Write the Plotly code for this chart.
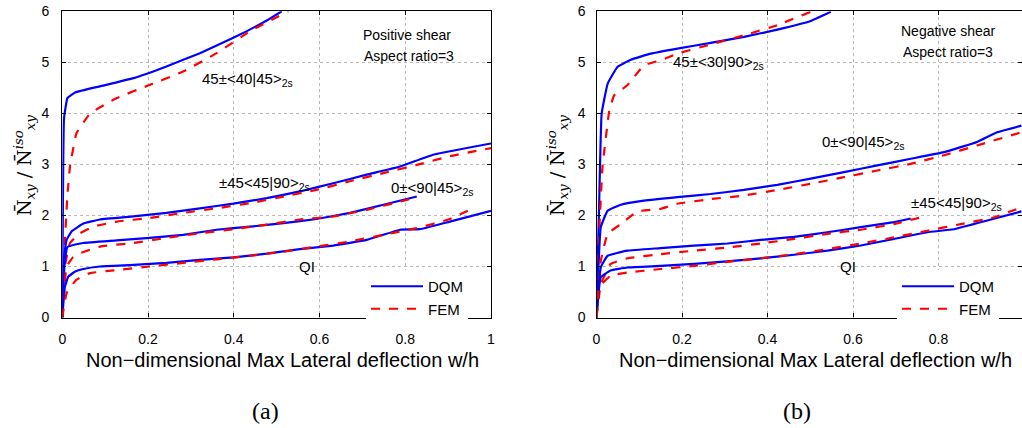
import plotly.graph_objects as go

# ---------------- data ----------------
# Panel (a): positive shear
a_45_40_dqm_x = [0, 0.004, 0.012, 0.03, 0.088, 0.166, 0.243, 0.321, 0.399, 0.477, 0.512]
a_45_40_dqm_y = [0, 3.9, 4.3, 4.41, 4.53, 4.69, 4.92, 5.18, 5.48, 5.82, 6.0]
a_45_40_fem_x = [0, 0.006, 0.012, 0.018, 0.033, 0.065, 0.127, 0.2045, 0.282, 0.36, 0.438, 0.527]
a_45_40_fem_y = [0, 1.5, 2.4, 2.96, 3.61, 4.0, 4.3, 4.56, 4.82, 5.18, 5.61, 6.0]

a_pm45_dqm_x = [0, 0.004, 0.01, 0.022, 0.049, 0.088, 0.166, 0.243, 0.321, 0.399, 0.477, 0.554, 0.632, 0.71, 0.788, 0.865, 1.0]
a_pm45_dqm_y = [0, 1.2, 1.52, 1.69, 1.84, 1.92, 1.98, 2.05, 2.14, 2.23, 2.34, 2.47, 2.63, 2.8, 2.96, 3.19, 3.41]
a_pm45_fem_x = [0, 0.006, 0.018, 0.041, 0.072, 0.127, 0.204, 0.282, 0.36, 0.438, 0.516, 0.593, 0.671, 0.749, 0.827, 0.904, 1.0]
a_pm45_fem_y = [0, 1.0, 1.46, 1.65, 1.78, 1.88, 1.95, 2.05, 2.14, 2.24, 2.37, 2.5, 2.67, 2.83, 2.99, 3.16, 3.32]

a_0pm_dqm_x = [0, 0.005, 0.012, 0.03, 0.049, 0.127, 0.204, 0.282, 0.36, 0.438, 0.516, 0.593, 0.671, 0.749, 0.827]
a_0pm_dqm_y = [0, 1.0, 1.38, 1.43, 1.46, 1.51, 1.56, 1.62, 1.72, 1.78, 1.85, 1.93, 2.05, 2.21, 2.37]
a_0pm_fem_x = [0, 0.01, 0.025, 0.041, 0.088, 0.166, 0.243, 0.321, 0.399, 0.477, 0.554, 0.632, 0.71, 0.788, 0.819]
a_0pm_fem_y = [0, 1.0, 1.18, 1.26, 1.39, 1.46, 1.56, 1.65, 1.73, 1.82, 1.92, 1.98, 2.11, 2.27, 2.34]

a_qi_dqm_x = [0, 0.006, 0.014, 0.03, 0.049, 0.088, 0.166, 0.243, 0.321, 0.399, 0.477, 0.554, 0.632, 0.71, 0.788, 0.834, 0.904, 1.0]
a_qi_dqm_y = [0, 0.6, 0.8, 0.9, 0.95, 1.0, 1.03, 1.07, 1.13, 1.18, 1.25, 1.34, 1.41, 1.52, 1.72, 1.73, 1.88, 2.09]
a_qi_fem_x = [0, 0.01, 0.033, 0.065, 0.127, 0.204, 0.282, 0.36, 0.438, 0.516, 0.593, 0.671, 0.749, 0.827, 0.904, 0.96]
a_qi_fem_y = [0, 0.48, 0.74, 0.87, 0.93, 1.0, 1.07, 1.14, 1.21, 1.29, 1.39, 1.49, 1.62, 1.75, 1.93, 2.15]

# Panel (b): negative shear
b_45_30_dqm_x = [0, 0.006, 0.012, 0.026, 0.049, 0.08, 0.127, 0.189, 0.267, 0.345, 0.423, 0.501, 0.548]
b_45_30_dqm_y = [0, 2.16, 3.99, 4.58, 4.91, 5.05, 5.17, 5.27, 5.38, 5.5, 5.64, 5.81, 5.99]
b_45_30_fem_x = [0, 0.006, 0.014, 0.03, 0.041, 0.072, 0.111, 0.15, 0.189, 0.267, 0.345, 0.423, 0.501]
b_45_30_fem_y = [0, 1.64, 2.95, 4.06, 4.35, 4.55, 4.94, 5.04, 5.17, 5.35, 5.53, 5.73, 5.99]

b_0pm_dqm_x = [0, 0.01, 0.026, 0.057, 0.111, 0.189, 0.267, 0.345, 0.423, 0.501, 0.579, 0.657, 0.735, 0.813, 0.89, 0.937, 0.994]
b_0pm_dqm_y = [0, 1.77, 2.09, 2.21, 2.29, 2.36, 2.42, 2.5, 2.6, 2.72, 2.85, 2.98, 3.11, 3.24, 3.44, 3.63, 3.76]
b_0pm_fem_x = [0, 0.01, 0.026, 0.057, 0.096, 0.15, 0.189, 0.267, 0.345, 0.423, 0.501, 0.579, 0.657, 0.735, 0.813, 0.89, 0.994]
b_0pm_fem_y = [0, 1.11, 1.64, 1.83, 2.08, 2.13, 2.23, 2.32, 2.39, 2.5, 2.62, 2.75, 2.88, 3.01, 3.18, 3.37, 3.63]

b_pm45_dqm_x = [0, 0.01, 0.026, 0.072, 0.15, 0.228, 0.306, 0.384, 0.462, 0.54, 0.618, 0.696, 0.735]
b_pm45_dqm_y = [0, 0.98, 1.21, 1.31, 1.36, 1.41, 1.45, 1.52, 1.58, 1.67, 1.77, 1.87, 1.94]
b_pm45_fem_x = [0, 0.01, 0.033, 0.072, 0.15, 0.228, 0.306, 0.384, 0.462, 0.54, 0.618, 0.696, 0.772]
b_pm45_fem_y = [0, 0.65, 1.05, 1.16, 1.24, 1.31, 1.37, 1.45, 1.54, 1.64, 1.72, 1.83, 1.99]

b_qi_dqm_x = [0, 0.01, 0.033, 0.072, 0.15, 0.228, 0.306, 0.384, 0.462, 0.54, 0.618, 0.696, 0.774, 0.836, 0.914, 0.994]
b_qi_dqm_y = [0, 0.79, 0.92, 0.98, 1.01, 1.05, 1.1, 1.16, 1.23, 1.31, 1.41, 1.54, 1.67, 1.73, 1.9, 2.08]
b_qi_fem_x = [0, 0.006, 0.033, 0.072, 0.15, 0.228, 0.306, 0.384, 0.462, 0.54, 0.618, 0.696, 0.774, 0.852, 0.929, 0.994]
b_qi_fem_y = [0, 0.59, 0.82, 0.88, 0.95, 1.01, 1.09, 1.16, 1.24, 1.34, 1.45, 1.57, 1.7, 1.83, 1.96, 2.16]

x_ticks = [0, 0.2, 0.4, 0.6, 0.8, 1]
x_ticklabels = ["0", "0.2", "0.4", "0.6", "0.8", "1"]
y_ticks = [0, 1, 2, 3, 4, 5, 6]

# ---------------- figure ----------------
BLUE = "#0000ff"
RED = "#ff0000"
fig = go.Figure()

def add(x, y, kind, xa, ya, legend, show):
    fig.add_trace(go.Scatter(
        x=x, y=y, mode="lines", xaxis=xa, yaxis=ya,
        name="DQM" if kind == "dqm" else "FEM",
        legend=legend, showlegend=show,
        line=dict(color=BLUE if kind == "dqm" else RED, width=2.2,
                  dash="solid" if kind == "dqm" else "dash",
                  shape="spline", smoothing=0.3),
        hoverinfo="skip"))

# panel (a)
add(a_45_40_dqm_x, a_45_40_dqm_y, "dqm", "x", "y", "legend", True)
add(a_45_40_fem_x, a_45_40_fem_y, "fem", "x", "y", "legend", True)
add(a_pm45_dqm_x, a_pm45_dqm_y, "dqm", "x", "y", "legend", False)
add(a_pm45_fem_x, a_pm45_fem_y, "fem", "x", "y", "legend", False)
add(a_0pm_dqm_x, a_0pm_dqm_y, "dqm", "x", "y", "legend", False)
add(a_0pm_fem_x, a_0pm_fem_y, "fem", "x", "y", "legend", False)
add(a_qi_dqm_x, a_qi_dqm_y, "dqm", "x", "y", "legend", False)
add(a_qi_fem_x, a_qi_fem_y, "fem", "x", "y", "legend", False)
# panel (b)
add(b_45_30_dqm_x, b_45_30_dqm_y, "dqm", "x2", "y2", "legend2", True)
add(b_45_30_fem_x, b_45_30_fem_y, "fem", "x2", "y2", "legend2", True)
add(b_0pm_dqm_x, b_0pm_dqm_y, "dqm", "x2", "y2", "legend2", False)
add(b_0pm_fem_x, b_0pm_fem_y, "fem", "x2", "y2", "legend2", False)
add(b_pm45_dqm_x, b_pm45_dqm_y, "dqm", "x2", "y2", "legend2", False)
add(b_pm45_fem_x, b_pm45_fem_y, "fem", "x2", "y2", "legend2", False)
add(b_qi_dqm_x, b_qi_dqm_y, "dqm", "x2", "y2", "legend2", False)
add(b_qi_fem_x, b_qi_fem_y, "fem", "x2", "y2", "legend2", False)

W, H = 1022, 428
TICKFONT = dict(family="Liberation Sans, Arial", size=14, color="black")
axis_common = dict(showline=True, linecolor="black", linewidth=1.3, mirror="ticks",
                   ticks="inside", ticklen=4, tickcolor="black", automargin=False,
                   showgrid=True, gridcolor="#b8b8b8", griddash="dot", gridwidth=1,
                   zeroline=False, tickfont=TICKFONT)

yd = [(H - 317.5) / H, (H - 11.3) / H]
LEGFONT = dict(family="Liberation Sans, Arial", size=15, color="black")
fig.update_layout(
    width=W, height=H, margin=dict(l=0, r=0, t=0, b=0, autoexpand=False),
    paper_bgcolor="white", plot_bgcolor="white",
    xaxis=dict(domain=[62.3 / W, 491 / W], range=[0, 1], tickvals=x_ticks,
               ticktext=x_ticklabels, anchor="y", ticklabelstandoff=9, **axis_common),
    yaxis=dict(domain=yd, range=[0, 6], tickvals=y_ticks, anchor="x",
               ticklabelstandoff=9, **axis_common),
    xaxis2=dict(domain=[596.5 / W, 1.0], range=[0, 0.9953], tickvals=x_ticks,
                ticktext=x_ticklabels, anchor="y2", ticklabelstandoff=9, **axis_common),
    yaxis2=dict(domain=yd, range=[0, 6], tickvals=y_ticks, anchor="x2",
                ticklabelstandoff=7, **axis_common),
    legend=dict(x=366 / W, y=(H - 325) / H, xanchor="left", yanchor="bottom",
                bgcolor="white", borderwidth=0, tracegroupgap=0, itemwidth=52,
                font=LEGFONT),
    legend2=dict(x=897 / W, y=(H - 325) / H, xanchor="left", yanchor="bottom",
                 bgcolor="white", borderwidth=0, tracegroupgap=0, itemwidth=52,
                 font=LEGFONT),
)

ann = []
def text(x, y, s, size=15, xanchor="left", family="Liberation Sans, Arial", angle=0):
    ann.append(dict(x=x / W, y=(H - y) / H, xref="paper", yref="paper", text=s,
                    showarrow=False, xanchor=xanchor, yanchor="middle", textangle=angle,
                    font=dict(family=family, size=size, color="black")))

# panel (a) texts
text(407, 35, "Positive shear", 14, "center")
text(409, 56, "Aspect ratio=3", 14, "center")
text(200, 79, "45±&lt;40|45&gt;<sub>2s</sub>", 15)
text(217, 183, "±45&lt;45|90&gt;<sub>2s</sub>", 15)
text(389, 189, "0±&lt;90|45&gt;<sub>2s</sub>", 15)
text(307, 266, "QI", 15, "center")
# panel (b) texts
text(948, 31, "Negative shear", 14, "center")
text(948, 52, "Aspect ratio=3", 14, "center")
text(671, 63, "45±&lt;30|90&gt;<sub>2s</sub>", 15)
text(820, 142, "0±&lt;90|45&gt;<sub>2s</sub>", 15)
text(909, 203, "±45&lt;45|90&gt;<sub>2s</sub>", 15)
text(848, 266, "QI", 15, "center")

# axis titles
xt = "Non\u2212dimensional Max Lateral deflection w/h"
text(282, 360, xt, 20, "center")
text(815, 360, xt, 20, "center")
yt = "N\u0304<sub><i>xy</i></sub> / N\u0304<sup><i>iso</i></sup><sub><i>xy</i></sub>"
text(24, 166, yt, 19, "center", "DejaVu Serif, Liberation Serif, serif", -90)
text(557, 166, yt, 19, "center", "DejaVu Serif, Liberation Serif, serif", -90)
# panel labels
text(265, 411, "(a)", 24, "center", "Liberation Serif, DejaVu Serif, serif")
text(797, 411, "(b)", 24, "center", "Liberation Serif, DejaVu Serif, serif")

fig.update_layout(annotations=ann)
fig.write_html("out.html", config={"displayModeBar": False},
               post_script="document.body.style.margin='0';document.body.style.overflow='hidden';")
